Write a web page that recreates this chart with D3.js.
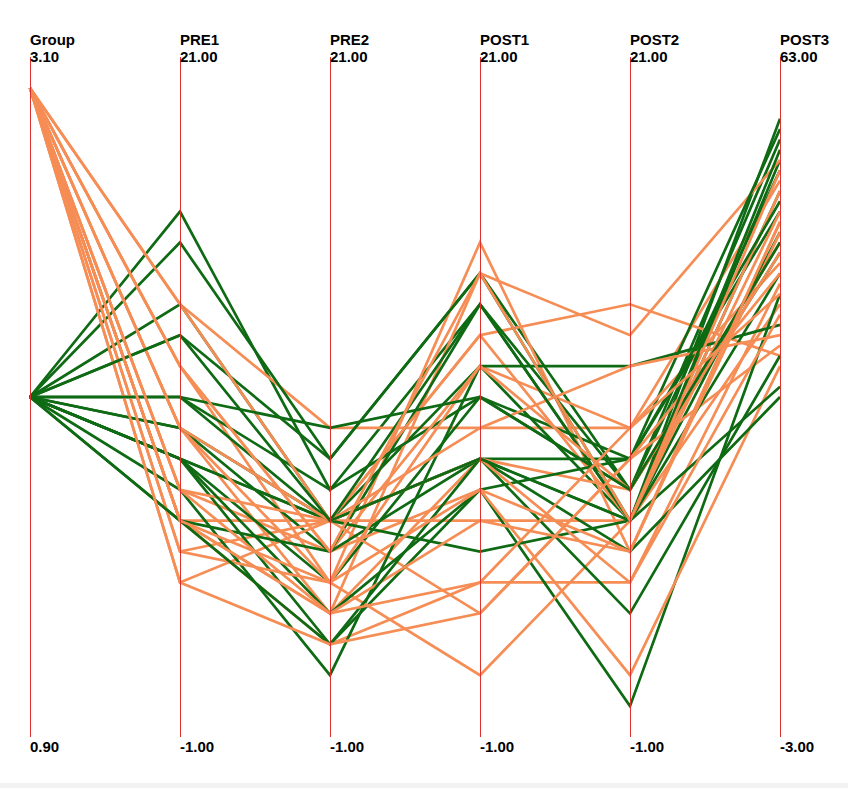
<!DOCTYPE html>
<html>
<head>
<meta charset="utf-8">
<script src="https://cdn.jsdelivr.net/npm/d3@7"></script>
<style>
  html, body { margin: 0; padding: 0; background: #fff; }
  #chart { width: 848px; height: 788px; }
  text { font-family: "Liberation Sans", Arial, sans-serif; font-weight: bold; font-size: 15px; fill: #000; }
</style>
</head>
<body>
<div id="chart"></div>
<script>
// axis names and ranges
const dims = ["Group", "PRE1", "PRE2", "POST1", "POST2", "POST3"];
const dimMin = [0.9, -1, -1, -1, -1, -3];
const dimMax = [3.1, 21, 21, 21, 21, 63];

// one value per record, same order in every array
const group = [2,3,2,3,2,3,2,3,2,3,2,3,2,3,2,3,2,3,2,3,2,3,2,3,2,3,2,3,2,3,2,3,2,3,2,3,3,3];
const pre1  = [16,13,15,6,13,11,12,9,10,7,10,6,9,6,8,5,8,4,8,11,8,13,7,9,6,7,8,6,9,5,6,4,10,9,12,11,6,7];
const pre2  = [7,9,8,6,6,4,8,3,7,5,6,2,5,3,6,6,4,6,2,5,6,6,1,4,5,6,3,3,6,4,2,2,9,6,6,5,4,3];
const post1 = [13,9,14,12,11,15,14,14,10,11,8,4,13,8,8,6,10,3,7,7,5,12,11,1,8,9,7,6,13,11,8,3,10,8,8,14,7,4];
const post2 = [6,9,7,13,6,5,6,12,8,9,8,4,7,7,6,6,7,8,0,1,6,6,11,6,3,11,8,5,6,7,5,8,7,4,6,6,5,9];
const post3 = [57,51,55,34,53,47,50,53,56,43,48,41,52,45,46,39,44,35,40,33,42,50,37,48,34,36,49,46,31,44,30,42,45,38,54,52,47,40];

const colors = { 2: "#0f6a14", 3: "#f58d55" };

function drawParallel(container) {
  const sel = d3.select(container);
  sel.selectAll("*").remove();

  const width = 848, height = 788;
  const top = 57, bottom = 737;

  const svg = sel.append("svg")
    .attr("width", width)
    .attr("height", height);

  const x = d3.scalePoint()
    .domain(dims)
    .range([30, 780]);

  const y = dims.map((d, i) => d3.scaleLinear()
    .domain([dimMin[i], dimMax[i]])
    .range([bottom, top]));

  const cols = [group, pre1, pre2, post1, post2, post3];
  const rows = group.map((g, r) => cols.map(c => c[r]));

  const line = d3.line()
    .x((v, i) => x(dims[i]))
    .y((v, i) => y[i](v));

  svg.append("g")
    .selectAll("path")
    .data(rows)
    .join("path")
      .attr("d", line)
      .attr("fill", "none")
      .attr("stroke", d => colors[d[0]])
      .attr("stroke-width", 2.7)
      .attr("stroke-linejoin", "miter");

  const axis = svg.append("g")
    .selectAll("g")
    .data(dims)
    .join("g")
      .attr("transform", d => `translate(${x(d)},0)`);

  axis.append("line")
    .attr("x1", 0.5)
    .attr("x2", 0.5)
    .attr("y1", top)
    .attr("y2", bottom)
    .attr("stroke", "#e0302c")
    .attr("stroke-width", 1);

  // plain hyphen for negatives, as in the original
  const fmt = d3.formatLocale({
    decimal: ".", thousands: ",", grouping: [3], currency: ["", ""], minus: "-"
  }).format(".2f");

  axis.append("text")
    .attr("y", 45)
    .text(d => d);

  axis.append("text")
    .attr("y", 62)
    .text((d, i) => fmt(dimMax[i]));

  axis.append("text")
    .attr("y", 752)
    .text((d, i) => fmt(dimMin[i]));

  svg.append("rect")
    .attr("x", 0)
    .attr("y", 783)
    .attr("width", width)
    .attr("height", 5)
    .attr("fill", "#f2f2f2");
}

drawParallel(document.getElementById("chart"));
</script>
</body>
</html>
